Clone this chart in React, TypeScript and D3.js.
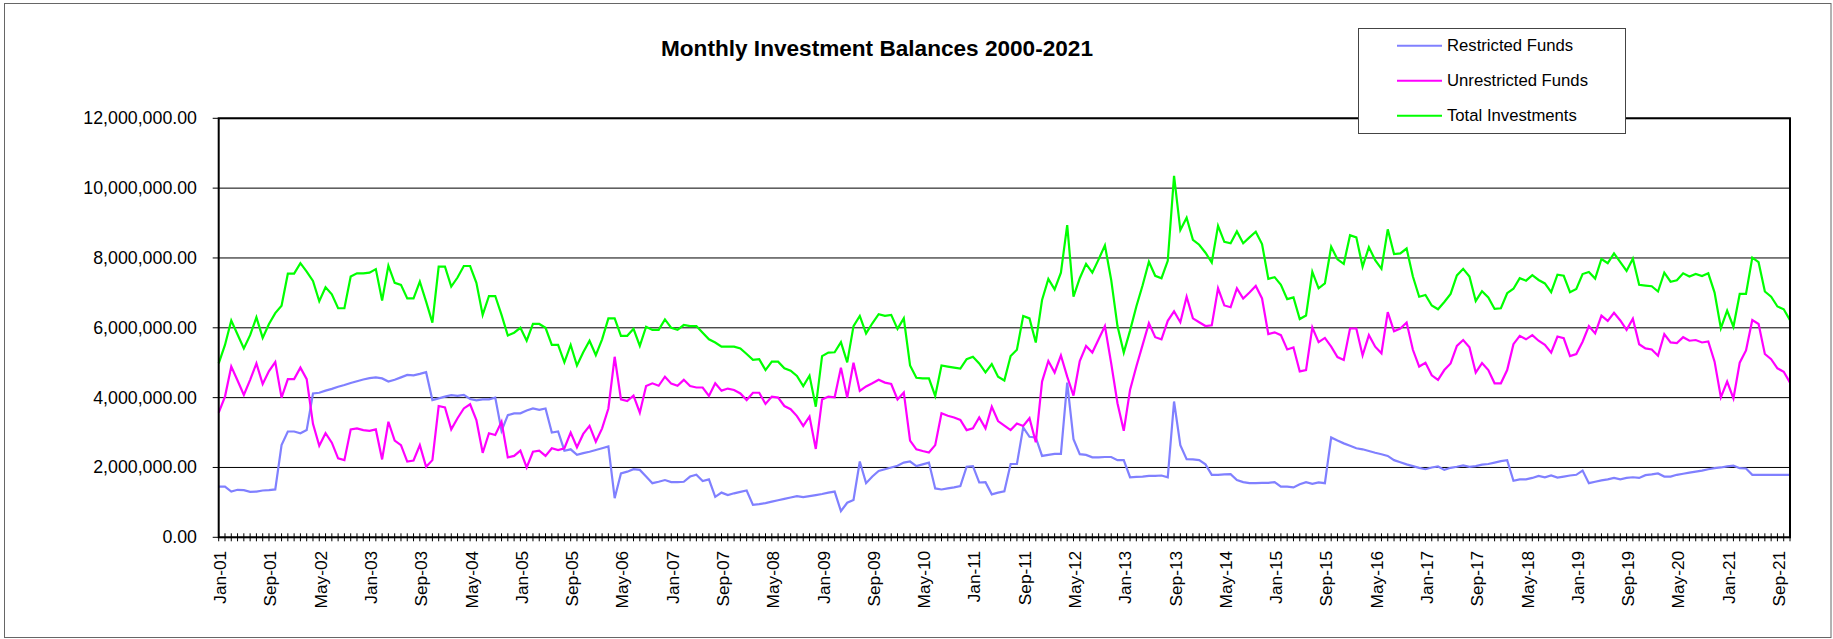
import React from 'react';
import * as d3 from 'd3';

// Categories: monthly, Jan-01 .. Nov-21
const START = new Date(2001, 0, 1);
const END = new Date(2021, 11, 1); // exclusive
const months: Date[] = d3.timeMonth.range(START, END);

// Values in millions
const restricted: number[] = [
  1.45, 1.45, 1.31, 1.36, 1.35, 1.30, 1.31, 1.34, 1.35, 1.37, 2.64, 3.03, 3.03, 2.98, 3.07, 4.12, 4.14, 4.20, 4.25, 4.31,
  4.36, 4.42, 4.47, 4.52, 4.56, 4.58, 4.55, 4.46, 4.51, 4.58, 4.65, 4.64, 4.68, 4.73, 3.93, 3.98, 4.03, 4.07, 4.05, 4.08,
  3.96, 3.92, 3.95, 3.95, 4.00, 3.05, 3.50, 3.55, 3.55, 3.63, 3.69, 3.65, 3.69, 3.00, 3.03, 2.48, 2.52, 2.36, 2.41, 2.45,
  2.50, 2.55, 2.60, 1.12, 1.83, 1.88, 1.95, 1.93, 1.74, 1.55, 1.59, 1.64, 1.58, 1.58, 1.59, 1.74, 1.79, 1.61, 1.66, 1.16,
  1.28, 1.21, 1.26, 1.30, 1.34, 0.93, 0.95, 0.98, 1.02, 1.06, 1.10, 1.14, 1.18, 1.15, 1.18, 1.21, 1.24, 1.28, 1.31, 0.75,
  0.99, 1.07, 2.17, 1.55, 1.74, 1.90, 1.95, 2.00, 2.05, 2.14, 2.17, 2.04, 2.09, 2.14, 1.40, 1.37, 1.40, 1.43, 1.47, 2.02,
  2.04, 1.57, 1.58, 1.23, 1.28, 1.32, 2.10, 2.10, 3.15, 2.88, 2.86, 2.33, 2.36, 2.39, 2.39, 4.43, 2.81, 2.38, 2.36, 2.29,
  2.29, 2.30, 2.30, 2.21, 2.21, 1.72, 1.73, 1.74, 1.76, 1.76, 1.77, 1.72, 3.89, 2.64, 2.24, 2.23, 2.21, 2.09, 1.79, 1.79,
  1.80, 1.81, 1.64, 1.58, 1.55, 1.55, 1.56, 1.56, 1.58, 1.45, 1.45, 1.43, 1.52, 1.58, 1.53, 1.57, 1.55, 2.86, 2.77, 2.69,
  2.62, 2.55, 2.52, 2.47, 2.42, 2.38, 2.33, 2.21, 2.15, 2.09, 2.04, 1.99, 1.95, 2.00, 2.03, 1.93, 1.99, 2.02, 2.06, 2.02,
  2.04, 2.08, 2.10, 2.14, 2.18, 2.21, 1.62, 1.66, 1.66, 1.70, 1.76, 1.72, 1.77, 1.71, 1.74, 1.77, 1.79, 1.91, 1.55, 1.59,
  1.63, 1.66, 1.70, 1.66, 1.70, 1.72, 1.70, 1.78, 1.80, 1.83, 1.74, 1.74, 1.79, 1.82, 1.85, 1.88, 1.91, 1.95, 1.98, 2.00,
  2.03, 2.05, 1.98, 1.97, 1.79, 1.79, 1.79, 1.79, 1.79, 1.79, 1.79,
];

const unrestricted: number[] = [
  3.57, 4.03, 4.89, 4.49, 4.08, 4.51, 4.98, 4.39, 4.76, 5.02, 4.00, 4.53, 4.53, 4.86, 4.53, 3.25, 2.62, 2.98, 2.71, 2.26,
  2.21, 3.09, 3.12, 3.07, 3.05, 3.09, 2.23, 3.31, 2.77, 2.64, 2.17, 2.20, 2.64, 2.02, 2.21, 3.76, 3.72, 3.09, 3.41, 3.69,
  3.81, 3.36, 2.42, 2.98, 2.93, 3.31, 2.29, 2.33, 2.48, 2.00, 2.45, 2.48, 2.33, 2.55, 2.50, 2.55, 3.00, 2.58, 2.96, 3.19,
  2.74, 3.12, 3.69, 5.17, 3.95, 3.90, 4.06, 3.57, 4.33, 4.41, 4.34, 4.60, 4.40, 4.34, 4.51, 4.33, 4.29, 4.29, 4.05, 4.41,
  4.20, 4.26, 4.22, 4.12, 3.93, 4.14, 4.14, 3.82, 4.03, 4.00, 3.76, 3.67, 3.47, 3.19, 3.46, 2.53, 3.95, 4.03, 4.01, 4.86,
  4.00, 5.00, 4.19, 4.32, 4.41, 4.51, 4.43, 4.39, 3.95, 4.15, 2.77, 2.52, 2.47, 2.43, 2.64, 3.55, 3.48, 3.43, 3.36, 3.07,
  3.12, 3.43, 3.12, 3.74, 3.33, 3.20, 3.07, 3.26, 3.19, 3.41, 2.72, 4.46, 5.05, 4.72, 5.21, 4.60, 4.06, 5.05, 5.48, 5.29,
  5.67, 6.05, 4.98, 3.84, 3.05, 4.22, 4.89, 5.51, 6.13, 5.73, 5.67, 6.20, 6.47, 6.16, 6.89, 6.27, 6.16, 6.05, 6.07, 7.13,
  6.64, 6.59, 7.13, 6.84, 7.01, 7.20, 6.84, 5.82, 5.87, 5.79, 5.38, 5.44, 4.75, 4.79, 6.01, 5.59, 5.71, 5.46, 5.16, 5.08,
  5.98, 5.98, 5.21, 5.79, 5.46, 5.27, 6.45, 5.90, 5.98, 6.15, 5.37, 4.89, 5.00, 4.64, 4.51, 4.79, 4.98, 5.48, 5.65, 5.44,
  4.72, 4.99, 4.79, 4.41, 4.41, 4.79, 5.53, 5.77, 5.67, 5.79, 5.63, 5.51, 5.29, 5.75, 5.70, 5.19, 5.25, 5.60, 6.05, 5.84,
  6.35, 6.20, 6.43, 6.21, 5.94, 6.26, 5.53, 5.41, 5.38, 5.20, 5.82, 5.58, 5.56, 5.73, 5.63, 5.65, 5.58, 5.61, 5.03, 4.01,
  4.46, 3.98, 5.00, 5.35, 6.22, 6.11, 5.25, 5.10, 4.84, 4.74, 4.43,
];

const total: number[] = [
  4.98, 5.51, 6.21, 5.81, 5.41, 5.79, 6.30, 5.71, 6.11, 6.42, 6.63, 7.55, 7.55, 7.85, 7.61, 7.34, 6.76, 7.16, 6.96, 6.56,
  6.56, 7.47, 7.56, 7.56, 7.58, 7.68, 6.78, 7.78, 7.29, 7.23, 6.84, 6.84, 7.32, 6.75, 6.15, 7.75, 7.75, 7.18, 7.44, 7.77,
  7.77, 7.29, 6.37, 6.91, 6.91, 6.37, 5.78, 5.86, 6.00, 5.63, 6.11, 6.11, 6.00, 5.51, 5.51, 5.01, 5.51, 4.92, 5.30, 5.63,
  5.22, 5.67, 6.27, 6.27, 5.77, 5.77, 5.97, 5.48, 6.03, 5.94, 5.94, 6.24, 6.00, 5.94, 6.08, 6.05, 6.05, 5.86, 5.67, 5.58,
  5.46, 5.46, 5.46, 5.41, 5.25, 5.08, 5.10, 4.79, 5.03, 5.03, 4.84, 4.77, 4.62, 4.33, 4.63, 3.74, 5.19, 5.29, 5.30, 5.59,
  5.01, 6.05, 6.34, 5.84, 6.13, 6.39, 6.34, 6.37, 5.97, 6.27, 4.92, 4.57, 4.55, 4.55, 4.05, 4.92, 4.89, 4.86, 4.83, 5.10,
  5.17, 4.98, 4.72, 4.96, 4.60, 4.49, 5.19, 5.37, 6.34, 6.27, 5.58, 6.80, 7.40, 7.10, 7.58, 8.94, 6.89, 7.42, 7.83, 7.58,
  7.96, 8.36, 7.37, 6.05, 5.29, 5.92, 6.61, 7.22, 7.89, 7.49, 7.42, 7.92, 10.35, 8.80, 9.15, 8.52, 8.38, 8.15, 7.87, 8.92,
  8.46, 8.42, 8.76, 8.42, 8.59, 8.75, 8.40, 7.40, 7.45, 7.23, 6.82, 6.87, 6.25, 6.35, 7.60, 7.13, 7.27, 8.32, 7.96, 7.83,
  8.65, 8.59, 7.75, 8.31, 7.94, 7.69, 8.82, 8.11, 8.13, 8.27, 7.47, 6.89, 6.94, 6.64, 6.53, 6.74, 6.97, 7.50, 7.69, 7.47,
  6.77, 7.05, 6.87, 6.54, 6.56, 6.99, 7.12, 7.42, 7.35, 7.51, 7.37, 7.27, 7.02, 7.52, 7.49, 7.02, 7.11, 7.54, 7.60, 7.41,
  7.97, 7.85, 8.13, 7.88, 7.63, 7.98, 7.23, 7.21, 7.19, 7.04, 7.58, 7.32, 7.36, 7.56, 7.47, 7.54, 7.48, 7.56, 7.01, 5.99,
  6.49, 6.03, 6.97, 6.97, 8.01, 7.88, 7.04, 6.89, 6.61, 6.53, 6.22,
];

const yTicks: number[] = [0, 2, 4, 6, 8, 10, 12];
const seriesNames: string[] = ['Restricted Funds', 'Unrestricted Funds', 'Total Investments'];
const seriesColors: string[] = ['#8080FF', '#FF00FF', '#00FF00'];
const seriesData: number[][] = [restricted, unrestricted, total];
const LABEL_EVERY = 8;
const TITLE = 'Monthly Investment Balances 2000-2021';

const FONT = '"Liberation Sans", Arial, Helvetica, sans-serif';

export default function App() {
  const W = 1833;
  const H = 639;
  const left = 218.7;
  const right = 1790;
  const top = 118.3;
  const bottom = 537.3;

  const n = months.length;
  const x = d3.scaleLinear().domain([0, n - 1]).range([left, right]);
  const y = d3.scaleLinear().domain([0, 12]).range([bottom, top]);
  const line = d3
    .line<number>()
    .x((_d, i) => x(i))
    .y((d) => y(d));
  const fmt = d3.format(',.2f');
  const tf = d3.timeFormat('%b-%y');

  const labelIdx = d3.range(0, n, LABEL_EVERY);

  return (
    <svg
      width={W}
      height={H}
      style={{ position: 'absolute', left: 0, top: 0, background: '#fff' }}
      fontFamily={FONT}
    >
      <rect x={0} y={0} width={W} height={H} fill="#fff" />
      {/* outer chart border */}
      <rect x={4.5} y={3.5} width={1826.5} height={634} fill="none" stroke="#666" strokeWidth={1} />

      {/* title */}
      <text x={877} y={55.5} textAnchor="middle" fontSize={22.6} fontWeight="bold" fill="#000">
        {TITLE}
      </text>

      {/* gridlines */}
      {yTicks.map((t) => (
        <line key={'g' + t} x1={left} x2={right} y1={y(t)} y2={y(t)} stroke="#000" strokeWidth={1} />
      ))}

      {/* y ticks & labels */}
      {yTicks.map((t) => (
        <g key={'yt' + t}>
          <line x1={left - 6} x2={left} y1={y(t)} y2={y(t)} stroke="#000" strokeWidth={1} />
          <text x={197} y={y(t)} textAnchor="end" dominantBaseline="central" fontSize={17.8} fill="#000">
            {fmt(t * 1e6)}
          </text>
        </g>
      ))}

      {/* x ticks (cross) */}
      {months.map((_m, i) => (
        <line key={'xt' + i} x1={x(i)} x2={x(i)} y1={bottom - 4} y2={bottom + 4} stroke="#000" strokeWidth={1} />
      ))}

      {/* x labels */}
      {labelIdx.map((i) => (
        <text
          key={'xl' + i}
          transform={`translate(${x(i) + 1.5},${bottom + 13.5}) rotate(-90)`}
          textAnchor="end"
          dominantBaseline="central"
          fontSize={17.3}
          fill="#000"
        >
          {tf(months[i])}
        </text>
      ))}

      {/* series */}
      {seriesData.map((s, k) => (
        <path
          key={'s' + k}
          d={line(s) || ''}
          fill="none"
          stroke={seriesColors[k]}
          strokeWidth={2.2}
          strokeLinejoin="miter"
        />
      ))}

      {/* plot border */}
      <rect x={left} y={top} width={right - left} height={bottom - top} fill="none" stroke="#000" strokeWidth={2} />

      {/* legend */}
      <rect x={1358.5} y={28.5} width={267} height={105} fill="#fff" stroke="#444" strokeWidth={1} />
      {seriesNames.map((nm, k) => (
        <g key={'lg' + k}>
          <line x1={1397} x2={1442} y1={45.7 + k * 35} y2={45.7 + k * 35} stroke={seriesColors[k]} strokeWidth={2} />
          <text x={1447} y={45.7 + k * 35} dominantBaseline="central" fontSize={16.7} fill="#000">
            {nm}
          </text>
        </g>
      ))}
    </svg>
  );
}
